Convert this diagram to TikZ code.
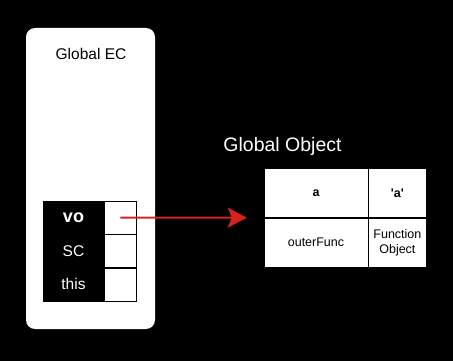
\documentclass[tikz,border=0pt]{standalone}
\usepackage{fontspec}
\setmainfont{Liberation Sans}
\definecolor{DiagBlack}{HTML}{000000}
\definecolor{DiagWhite}{HTML}{FFFFFF}
\definecolor{DiagRed}{HTML}{D8221E}
\usetikzlibrary{arrows.meta, positioning}
\tikzset{
    ecbox/.style={
        fill=DiagWhite,
        rounded corners=9pt,
        minimum width=129pt,
        minimum height=301pt,
        inner sep=0pt
    },
    keycell/.style={
        draw=DiagBlack,
        fill=DiagBlack,
        text=DiagWhite,
        minimum width=61pt,
        minimum height=33pt,
        font=\fontsize{15.5}{18}\selectfont,
        inner sep=0pt
    },
    valcell/.style={
        draw=DiagBlack,
        fill=DiagWhite,
        minimum width=32pt,
        minimum height=33pt,
        inner sep=0pt
    },
    objcell/.style={
        draw=DiagBlack,
        fill=DiagWhite,
        minimum width=#1,
        minimum height=49pt,
        text=DiagBlack,
        font=\fontsize{12.5}{15}\selectfont,
        align=center,
        inner sep=0pt
    },
    objcell/.default=104pt,
    redarrow/.style={
        -{Stealth[length=19pt, width=20pt, inset=4pt]},
        line width=2pt,
        DiagRed
    }
}

\begin{document}
\begin{tikzpicture}[x=1pt, y=-1pt]
        % Background
        \path[fill=DiagBlack, use as bounding box] (0,0) rectangle (453,361);

        % Global EC
        \node[ecbox] (ec) at (90.5,178.5) {};
        \node[font=\fontsize{15.5}{18}\selectfont] (ectitle) at (91,54) {Global EC};

        \node[keycell, font=\fontsize{18}{20}\selectfont\bfseries] (vo) at (73.5,217.5) {vo};
        \node[keycell, below=0pt of vo] (sc) {SC};
        \node[keycell, below=0pt of sc] (this) {this};
        \node[valcell, right=0pt of vo] (vocell) {};
        \node[valcell, right=0pt of sc] (sccell) {};
        \node[valcell, right=0pt of this] (thiscell) {};

        % Global Object
        \node[text=DiagWhite, font=\fontsize{19.5}{22}\selectfont] (gotitle) at (282.5,146) {Global Object};

        \node[objcell, font=\fontsize{12.5}{15}\selectfont\bfseries] (keya) at (316,193) {a};
        \node[objcell=58pt, font=\fontsize{12.5}{15}\selectfont\bfseries, right=0pt of keya] (vala) {\textquotesingle a\textquotesingle};
        \node[objcell, below=0pt of keya] (outerfunc) {outerFunc};
        \node[objcell=58pt, right=0pt of outerfunc] (funcobj) {Function\\Object};

        % Arrow
        \draw[redarrow, shorten >=17pt] (vocell.center) -- (outerfunc.north west);
    \end{tikzpicture}
\end{document}
